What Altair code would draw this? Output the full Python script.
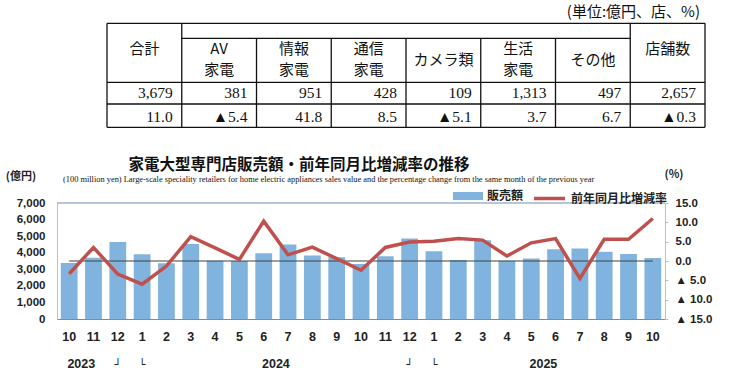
import altair as alt
import pandas as pd

# ---------------- data ----------------
months = ["2023-10", "2023-11", "2023-12",
          "2024-01", "2024-02", "2024-03", "2024-04", "2024-05", "2024-06",
          "2024-07", "2024-08", "2024-09", "2024-10", "2024-11", "2024-12",
          "2025-01", "2025-02", "2025-03", "2025-04", "2025-05", "2025-06",
          "2025-07", "2025-08", "2025-09", "2025-10"]
sales = [3380, 3690, 4650, 3900, 3370, 4520, 3520, 3500, 3970, 4490, 3830, 3720,
         3314, 3790, 4860, 4090, 3560, 4750, 3520, 3650, 4210, 4260, 4060, 3920, 3679]
yoy = [-3.3, 3.5, -3.4, -6.0, -1.3, 6.3, 3.4, 0.4, 10.3, 1.6, 3.6, 0.6,
       -2.4, 3.5, 4.9, 5.1, 5.8, 5.4, 1.3, 4.7, 5.8, -4.5, 5.6, 5.6, 11.0]

year_months = ["2023-11", "2024-07", "2025-06"]
year_labels = ["2023", "2024", "2025"]
bracket_months = ["2023-12", "2024-01", "2024-12", "2025-01"]
bracket_marks = ["┘", "└", "┘", "└"]

table_line1 = ["合計", "AV", "情報", "通信", "カメラ類", "生活", "その他", "店舗数"]
table_line2 = ["", "家電", "家電", "家電", "", "家電", "", ""]
table_sales = [3679, 381, 951, 428, 109, 1313, 497, 2657]
table_change = [11.0, -5.4, 41.8, 8.5, -5.1, 3.7, 6.7, -0.3]

title_text = "家電大型専門店販売額・前年同月比増減率の推移"
subtitle_text = ("(100 million yen) Large-scale speciality retailers for home electric "
                 "appliances sales value and the percentage change from the same month "
                 "of the previous year")
unit_text = "(単位:億円、店、%)"
left_unit = "(億円)"
right_unit = "(%)"
bar_name = "販売額"
line_name = "前年同月比増減率"

# ---------------- style ----------------
BAR = "#80B4DE"
RED = "#C0504D"
JP = "Noto Sans CJK JP"
NUM = "Liberation Sans"
SERIF = "Liberation Serif"

W, H = 608, 116
PL, PT = 57, 203

df = pd.DataFrame({"month": months, "sales": sales, "yoy": yoy})

xscale = alt.Scale(domain=months, paddingInner=0.31, paddingOuter=0.155)
xaxis = alt.Axis(
    title=None, labelAngle=0, ticks=False, labelPadding=11,
    labelExpr="'' + toNumber(split(datum.value, '-')[1])",
    labelFont=NUM, labelFontSize=12.5, labelFontWeight="bold", labelColor="#222",
    domainColor="#6F8DB5", domainWidth=1.2,
)
yscale = alt.Scale(domain=[0, 7000], nice=False)
yaxis = alt.Axis(title=None, values=list(range(0, 7001, 1000)),
                 labelExpr="format(datum.value, ',')",
                 ticks=False, grid=False, labelPadding=12,
                 labelFont=NUM, labelFontSize=11.5, labelFontWeight="bold",
                 labelColor="#222", domainColor="#BFBFBF")

bars = alt.Chart(df).transform_calculate(s=f"'{bar_name}'").mark_bar().encode(
    x=alt.X("month:N", scale=xscale, axis=xaxis, sort=months),
    y=alt.Y("sales:Q", scale=yscale, axis=yaxis),
    fill=alt.Fill("s:N", scale=alt.Scale(domain=[bar_name], range=[BAR]),
                  legend=alt.Legend(orient="none", legendX=396, legendY=-22, title=None,
                                    symbolType="M-1,-0.27H1V0.27H-1Z", symbolSize=900,
                                    symbolStrokeWidth=0, symbolOpacity=1,
                                    labelFont=JP, labelFontSize=12, labelFontWeight="bold",
                                    labelColor="#222", labelOffset=4, padding=0)),
)

zero = alt.Chart(df).transform_calculate(z="3500").mark_line(
    color="#404040", strokeWidth=1.2
).encode(
    x=alt.X("month:N", scale=xscale, sort=months, axis=xaxis),
    y=alt.Y("z:Q", scale=yscale, axis=yaxis),
)

top = alt.Chart(df).transform_aggregate(n="count()").transform_calculate(v="7000").mark_rule(
    color="#6F8DB5", strokeWidth=1.2
).encode(
    y=alt.Y("v:Q", scale=yscale, axis=yaxis)
)

years = alt.Chart(pd.DataFrame({"month": year_months, "label": year_labels})).mark_text(
    font=NUM, fontSize=12.5, fontWeight="bold", color="#222", dx=-12.16, baseline="middle"
).encode(
    x=alt.X("month:N", scale=xscale, sort=months, axis=xaxis),
    y=alt.value(161),
    text="label:N",
)

brackets = alt.Chart(pd.DataFrame({"month": bracket_months, "label": bracket_marks})).mark_text(
    font="DejaVu Sans", fontSize=11, color="#222", baseline="middle"
).encode(
    x=alt.X("month:N", scale=xscale, sort=months, axis=xaxis),
    y=alt.value(162),
    text="label:N",
)

line = alt.Chart(df).transform_calculate(s2=f"'{line_name}'").mark_line(
    strokeWidth=3.5
).encode(
    x=alt.X("month:N", scale=xscale, sort=months, axis=xaxis),
    y=alt.Y("yoy:Q", scale=alt.Scale(domain=[-15, 15], nice=False),
            axis=alt.Axis(orient="right", title=None, values=[-15, -10, -5, 0, 5, 10, 15],
                          labelExpr="datum.value < 0 ? '▲ ' + format(-datum.value, '.1f') : format(datum.value, '.1f')",
                          ticks=True, tickSize=3, tickColor="#BFBFBF", grid=False,
                          labelPadding=7, labelFont=NUM, labelFontSize=11.5,
                          labelFontWeight="bold", labelColor="#222", domainColor="#BFBFBF")),
    stroke=alt.Stroke("s2:N", scale=alt.Scale(domain=[line_name], range=[RED]),
                      legend=alt.Legend(orient="none", legendX=475, legendY=-22, title=None,
                                        symbolType="stroke", symbolSize=960,
                                        symbolStrokeWidth=3.5,
                                        labelFont=JP, labelFontSize=12, labelFontWeight="bold",
                                        labelColor="#222", labelOffset=4, padding=0)),
)

left = alt.layer(bars, zero, top, years, brackets)
main = alt.layer(left, line).resolve_scale(y="independent")

# ---------------- table ----------------
tx = alt.Scale(domain=[0, 8], range=[107 - PL, 705 - PL], nice=False, zero=False)
ty = alt.Scale(domain=[0, 104], range=[23.3 - PT, 127.3 - PT], nice=False, zero=False)

hl = [(0, 8, 0), (1, 7, 15), (0, 8, 59), (0, 8, 80.7), (0, 8, 104)]
vl = [(0, 0, 104), (8, 0, 104), (1, 0, 104), (7, 0, 104)] + [(i, 15, 104) for i in range(2, 7)]
rules_df = pd.DataFrame(
    [{"x1": a, "x2": b, "y1": y, "y2": y} for a, b, y in hl]
    + [{"x1": x, "x2": x, "y1": a, "y2": b} for x, a, b in vl]
)
t_rules = alt.Chart(rules_df).mark_rule(color="#111", strokeWidth=1.3).encode(
    x=alt.X("x1:Q", scale=tx, axis=None), x2="x2:Q",
    y=alt.Y("y1:Q", scale=ty, axis=None), y2="y2:Q",
)

hdr_rows = []
for i, (a, b) in enumerate(zip(table_line1, table_line2)):
    if b:
        hdr_rows.append({"c": i + 0.5, "r": 26.0, "t": a})
        hdr_rows.append({"c": i + 0.5, "r": 46.7, "t": b})
    elif i in (0, 7):
        hdr_rows.append({"c": i + 0.5, "r": 26.0, "t": a})
    else:
        hdr_rows.append({"c": i + 0.5, "r": 36.7, "t": a})
hdr_df = pd.DataFrame(hdr_rows)
t_hdr = alt.Chart(hdr_df).mark_text(font=JP, fontSize=15, color="#111", baseline="middle").encode(
    x=alt.X("c:Q", scale=tx, axis=None),
    y=alt.Y("r:Q", scale=ty, axis=None),
    text="t:N",
)

val_rows = []
for i, (s, c) in enumerate(zip(table_sales, table_change)):
    val_rows.append({"c": i + 1, "r": 69.4, "t": f"{s:,}"})
    val_rows.append({"c": i + 1, "r": 93.4, "t": (f"▲{abs(c):.1f}" if c < 0 else f"{c:.1f}")})
val_df = pd.DataFrame(val_rows)
t_val = alt.Chart(val_df).mark_text(font=SERIF, fontSize=15.5, color="#111", baseline="middle",
                                    align="right", dx=-9).encode(
    x=alt.X("c:Q", scale=tx, axis=None),
    y=alt.Y("r:Q", scale=ty, axis=None),
    text="t:N",
)

table = alt.layer(t_rules, t_hdr, t_val)

# ---------------- annotations ----------------
def label(txt, x, y, **kw):
    return alt.Chart(pd.DataFrame({"t": [txt]})).mark_text(baseline="middle", **kw).encode(
        x=alt.value(x), y=alt.value(y), text="t:N"
    )

annots = alt.layer(
    label(unit_text, 700 - PL, 12 - PT, font=JP, fontSize=15, color="#111", align="right"),
    label(title_text, 299 - PL, 165 - PT, font=JP, fontSize=15.5, fontWeight="bold", color="#111",
          align="center"),
    label(subtitle_text, 63 - PL, 179 - PT, font=SERIF, fontSize=8.4, color="#111", align="left"),
    label(left_unit, 21 - PL, 177 - PT, font=JP, fontSize=11, fontWeight="bold", color="#222",
          align="center"),
    label(right_unit, 674 - PL, 175 - PT, font=JP, fontSize=11, fontWeight="bold", color="#222",
          align="center"),
)

chart = alt.layer(main, table, annots).resolve_scale(x="independent", y="independent").properties(
    width=W, height=H,
    autosize=alt.AutoSizeParams(type="none"),
    padding={"left": PL, "top": PT, "right": 739 - PL - W, "bottom": 376 - PT - H},
    background="white",
).configure_view(stroke=None)

chart.save("out.html", embed_options={"renderer": "svg", "actions": False})
